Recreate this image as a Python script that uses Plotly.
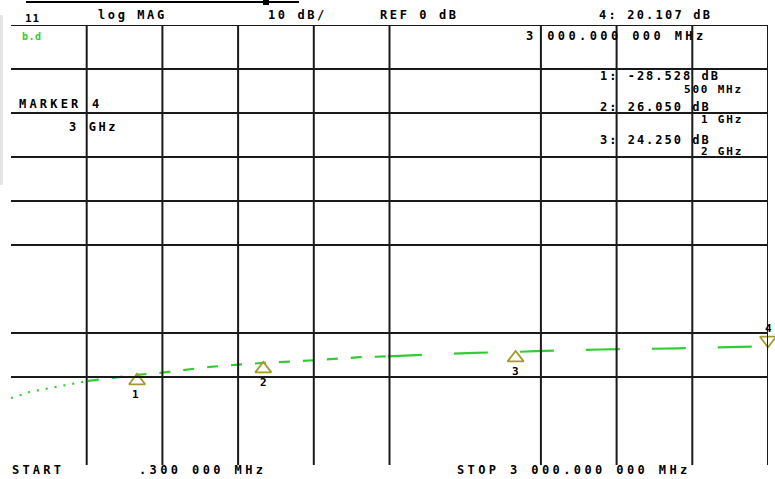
import plotly.graph_objects as go

# ---------------- data ----------------
start_mhz = 0.3
stop_mhz = 3000.0
ref_db = 0.0
db_per_div = 10.0

trace_freq = [0.3, 75, 155, 234, 305, 393, 500, 599, 682, 789, 900, 1000, 1145,
              1284, 1383, 1494, 1653, 1839, 2000, 2081, 2334, 2643, 3000]
trace_db = [-34.8, -33.4, -32.5, -31.6, -30.9, -30.2, -29.5, -29.0, -28.4, -27.7,
            -27.2, -26.8, -26.4, -25.9, -25.5, -25.3, -24.9, -24.5, -24.3, -24.1,
            -23.75, -23.5, -23.0]

marker_names = ["1", "2", "3", "4"]
marker_freq = [500, 1000, 2000, 3000]
marker_db = [-29.5, -26.8, -24.3, -23.0]
marker_read = ["1: -28.528 dB", "2: 26.050 dB", "3: 24.250 dB"]
marker_freq_lbl = ["500 MHz", "1 GHz", "2 GHz"]

grid_div_x = [1, 2, 3, 4, 5, 7, 8, 9, 10]
grid_db = [50, 40, 30, 20, 10, 0, -20, -30]

# ---------------- figure ----------------
W, H = 775, 479
L, R, T, B = 11, 7, 25, 14
PW, PH = W - L - R, H - T - B
px_per_db = PH / (10 * db_per_div)

GREEN = "#33cc33"
OLIVE = "#a39a2c"
FONT = "DejaVu Sans Mono"

fig = go.Figure()

# trace split into sections with differing dash rendering
sections = [(0, 5, "2px,7px"), (4, 16, "11px,13px"), (15, len(trace_freq), "34px,32px")]
for a, b, d in sections:
    fig.add_trace(go.Scatter(x=trace_freq[a:b], y=trace_db[a:b], mode="lines",
                             line=dict(color=GREEN, width=2.2, dash=d),
                             hoverinfo="skip", showlegend=False))

# markers (apex sits on the trace)
off_up = 6 / px_per_db
up_y = [marker_db[i] - off_up for i in range(3)]
fig.add_trace(go.Scatter(x=marker_freq[:3], y=up_y, mode="markers",
                         marker=dict(symbol="triangle-up-open", size=14,
                                     line=dict(color=OLIVE, width=1.8), color=OLIVE),
                         cliponaxis=False, showlegend=False, hoverinfo="skip"))
fig.add_trace(go.Scatter(x=marker_freq[3:], y=[marker_db[3] + off_up], mode="markers",
                         marker=dict(symbol="triangle-down-open", size=14,
                                     line=dict(color=OLIVE, width=1.8), color=OLIVE),
                         cliponaxis=False, showlegend=False, hoverinfo="skip"))

ann = []
label_shift = [-20, -20, -20, 18]
for i, n in enumerate(marker_names):
    ann.append(dict(x=marker_freq[i], y=marker_db[i], xref="x", yref="y", text="<b>%s</b>" % n,
                    showarrow=False, yshift=label_shift[i], xshift=-2 if i == 0 else 0,
                    font=dict(family=FONT, size=11, color="black")))

# grid
shapes = []
span = stop_mhz - start_mhz
for k in grid_div_x:
    f = start_mhz + k * span / 10
    shapes.append(dict(type="line", xref="x", yref="paper", x0=f, x1=f, y0=0, y1=1,
                       line=dict(color="#1a1a1a", width=2)))
for g in grid_db:
    shapes.append(dict(type="line", xref="paper", yref="y", x0=0, x1=1, y0=g, y1=g,
                       line=dict(color="#1a1a1a", width=2)))


def px(X):
    return (X - L) / PW


def py(Y):
    return (H - B - Y) / PH


# top bar and left grey strip
shapes.append(dict(type="line", xref="paper", yref="paper", x0=px(26), x1=px(299),
                   y0=py(2), y1=py(2), line=dict(color="black", width=2)))
shapes.append(dict(type="rect", xref="paper", yref="paper", x0=px(263), x1=px(269),
                   y0=py(0), y1=py(5), fillcolor="black", line=dict(width=0)))
shapes.append(dict(type="rect", xref="paper", yref="paper", x0=px(0), x1=px(3),
                   y0=py(185), y1=py(15), fillcolor="#e4e4e4", line=dict(width=0), layer="below"))


def txt(s, X, Y, size=12, sp=2.6, color="black", anchor="left"):
    ann.append(dict(x=px(X), y=py(Y), xref="paper", yref="paper",
                    text='<b><span style="letter-spacing:%spx">%s</span></b>' % (sp, s),
                    showarrow=False, xanchor=anchor, yanchor="middle",
                    font=dict(family=FONT, size=size, color=color)))


txt("11", 23, 18, size=11, sp=1)
txt("log MAG", 96, 15)
txt("%d dB/" % db_per_div, 266, 15)
txt("REF %d dB" % ref_db, 378, 15)
txt("4: 20.107 dB", 597, 15, sp=2.2)
txt("b.d", 20, 37, size=10, sp=0.5, color=GREEN)
txt("3 000.000 000 MHz", 524, 36, sp=3.4)
txt("MARKER 4", 17, 104, sp=3.2)
txt("3 GHz", 67, 127)
for i, (a, b) in enumerate(zip(marker_read, marker_freq_lbl)):
    yy = [76, 107, 140][i]
    txt(a, 598, yy, sp=2.0)
    txt(b, 745, yy + [13, 12, 11][i], size=11, sp=1.8, anchor="right")
txt("START", 10, 470, sp=3.2)
txt(".300 000 MHz", 137, 470, sp=3.4)
txt("STOP 3 000.000 000 MHz", 455, 470, sp=3.4)

fig.update_layout(
    width=W, height=H,
    margin=dict(l=L, r=R, t=T, b=B, pad=0),
    paper_bgcolor="white", plot_bgcolor="white",
    xaxis=dict(range=[start_mhz, stop_mhz], showgrid=False, zeroline=False,
               showticklabels=False, ticks="", fixedrange=True),
    yaxis=dict(range=[-5 * db_per_div, 5 * db_per_div], showgrid=False, zeroline=False,
               showticklabels=False, ticks="", fixedrange=True),
    shapes=shapes, annotations=ann, showlegend=False,
)

fig.write_html("out.html", config={"displayModeBar": False},
               post_script="document.body.style.margin='0';document.body.style.overflow='hidden';")
